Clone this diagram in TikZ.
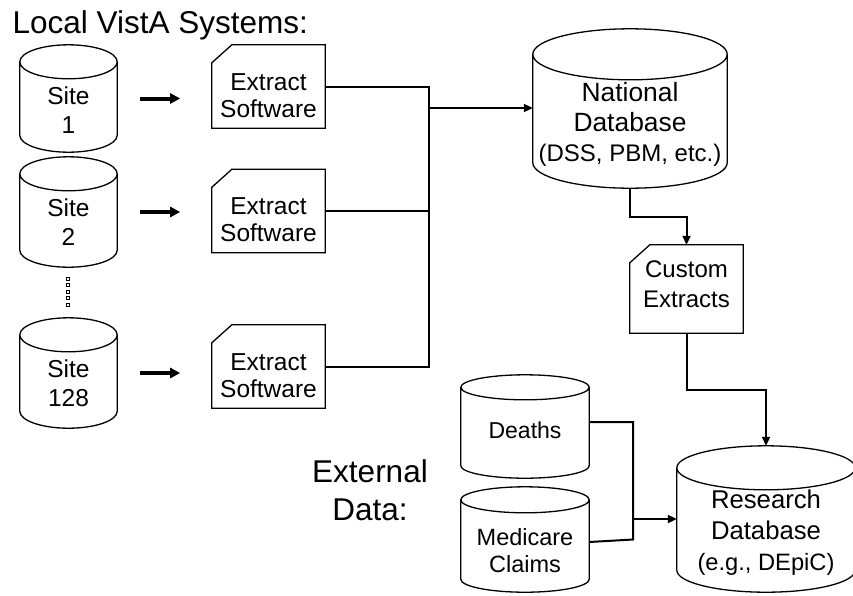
\documentclass[tikz,border=0pt]{standalone}
\usepackage{fontspec}
\setmainfont{Liberation Sans}
\usetikzlibrary{arrows.meta,calc}

% outline of a database drum round a named node: #1 node, #2 half height of its ellipse
\newcommand{\drum}[2]{%
  \draw[line width=1.3pt] let \p1=(#1.north west), \p2=(#1.south east), \n1={(\x2-\x1)/2} in
    (\x1,\y1-#2) -- (\x1,\y2+#2) arc[start angle=180,end angle=360,x radius=\n1,y radius=#2]
    -- (\x2,\y1-#2) ({(\x1+\x2)/2},\y1-#2) ellipse[x radius=\n1,y radius=#2];}
% outline of a card with its top left corner cut off
\newcommand{\card}[1]{%
  \draw[line width=1.3pt] ([yshift=-18pt]#1.north west) -- ([xshift=20pt]#1.north west)
    -- (#1.north east) -- (#1.south east) -- (#1.south west) -- cycle;}

\begin{document}
\begin{tikzpicture}[x=1pt,y=-1pt,
  db/.style={align=center,inner sep=0pt,text depth=0pt,font=\fontsize{24.5}{29}\selectfont},
  soft/.style={align=center,inner sep=0pt,text depth=0pt,minimum width=113pt,
    font=\fontsize{24.5}{27}\selectfont},
  wire/.style={line width=2pt},
  link/.style={wire,-{Triangle[length=9pt,width=8pt]}},
  feed/.style={line width=4pt,-{Triangle[length=10pt,width=10pt]}},
  big/.style={font=\fontsize{31.5}{38}\selectfont}]
\useasboundingbox (0,0) rectangle (853,595);

\node[big,anchor=base west] (title) at (9,33) {Local VistA Systems:};

% local sites
\node[db,minimum width=97pt,minimum height=107pt,text height=69pt] (site1) at (68.5,98.5) {Site\\1};
\node[db,minimum width=97pt,minimum height=110pt,text height=66pt] (site2) at (68.5,212) {Site\\2};
\node[db,minimum width=97pt,minimum height=110pt,text height=66pt] (site128) at (68.5,373) {Site\\128};
\drum{site1}{17pt}
\drum{site2}{17pt}
\drum{site128}{17pt}
\foreach \y in {277,283.5,290,296.5,303}
  \draw[line width=0.8pt] (66.5,\y) rectangle ++(3,3);

% extract software
\node[soft,minimum height=83pt,text height=61pt] (ext1) at (268.5,86.5) {Extract\\Software};
\node[soft,minimum height=83pt,text height=61pt] (ext2) at (268.5,211) {Extract\\Software};
\node[soft,minimum height=83pt,text height=61pt] (ext3) at (268.5,366.5) {Extract\\Software};
\card{ext1}
\card{ext2}
\card{ext3}

\draw[feed] ($(site1.east)+(23,0)$) -- ($(site1.east)+(63,0)$);
\draw[feed] ($(site2.east)+(23,0)$) -- ($(site2.east)+(63,0)$);
\draw[feed] ($(site128.east)+(23,0)$) -- ($(site128.east)+(63,0)$);

% national level
\node[db,minimum width=194pt,minimum height=159pt,text height=105pt,font=\fontsize{26.4}{30}\selectfont] (natdb) at (630,108.5)
  {National\\Database\\{\fontsize{24}{30}\selectfont(DSS, PBM, etc.)}};
\drum{natdb}{25.5pt}
\node[soft,minimum height=88pt,text height=36pt,font=\fontsize{24}{30}\selectfont] (custom) at (686.5,289) {Custom\\Extracts};
\card{custom}

\coordinate (bus) at (429,108);
\draw[wire] (ext1.east) -| (bus |- ext3.east) -- (ext3.east);
\draw[wire] (ext2.east) -- (bus |- ext2.east);
\draw[link] (bus) -- (natdb.west |- bus);
\draw[link] (natdb.south) -- ++(0,29) -| (custom.north);

% external data
\node[big,align=center,anchor=base] (extdata) at (370,520) {External\\Data:};
\node[db,minimum width=128pt,minimum height=103pt,text height=23pt,font=\fontsize{23}{27}\selectfont] (deaths) at (525,426.5) {Deaths};
\drum{deaths}{12.5pt}
\node[db,minimum width=128pt,minimum height=105pt,text height=65pt,font=\fontsize{23.5}{27}\selectfont] (medicare) at (525,539.5) {Medicare\\Claims};
\drum{medicare}{13pt}
\node[db,minimum width=178pt,minimum height=146pt,text height=102pt,font=\fontsize{25.7}{31}\selectfont] (resdb) at (766,519)
  {Research\\Database\\{\fontsize{23.7}{31}\selectfont(e.g., DEpiC)}};
\drum{resdb}{22pt}

\coordinate (join) at (633,519);
\draw[wire] ([yshift=4.5pt]deaths.east) -| (join |- medicare.east) -- ([yshift=-2.5pt]medicare.east);
\draw[link] (custom.south) -- ++(0,57) -| (resdb.north);
\draw[link] (join) -- (resdb.west |- join);
\end{tikzpicture}
\end{document}
